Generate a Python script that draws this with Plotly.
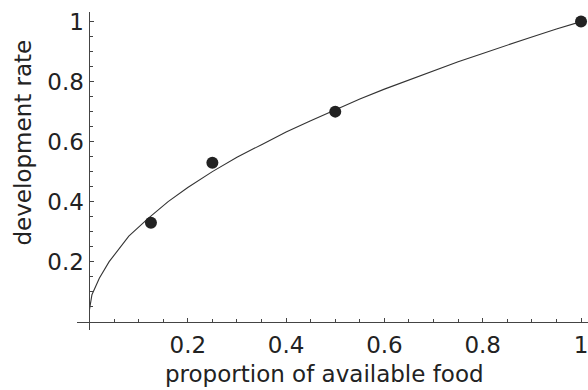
import plotly.graph_objects as go

# Measured development rate at each food level
food = [0.125, 0.25, 0.5, 1.0]
rate = [0.33, 0.53, 0.70, 1.0]

# Fitted response curve (sampled)
curve_x = [0.0, 0.005, 0.02, 0.04, 0.08, 0.12, 0.16, 0.2, 0.25, 0.3, 0.35, 0.4,
           0.45, 0.5, 0.55, 0.6, 0.65, 0.7, 0.75, 0.8, 0.85, 0.9, 0.95, 1.0]
curve_y = [0.04, 0.09, 0.145, 0.2, 0.285, 0.345, 0.40, 0.447, 0.50, 0.548, 0.59, 0.632,
           0.67, 0.707, 0.742, 0.775, 0.806, 0.837, 0.866, 0.894, 0.922, 0.949, 0.975, 1.0]

x_ticks = [0.2, 0.4, 0.6, 0.8, 1.0]
x_labels = ["0.2", "0.4", "0.6", "0.8", "1"]
y_ticks = [0.2, 0.4, 0.6, 0.8, 1.0]
y_labels = ["0.2", "0.4", "0.6", "0.8", "1"]
minor_vals = [0.05, 0.1, 0.15, 0.25, 0.3, 0.35, 0.45, 0.5, 0.55, 0.65, 0.7, 0.75,
              0.85, 0.9, 0.95]

x_range = [-0.0254, 1.0142]
y_range = [-0.0277, 1.032]

ink = "#222222"
axis_col = "#444444"
font = dict(family="DejaVu Sans", size=23, color=ink)

fig = go.Figure()
fig.add_trace(go.Scatter(x=curve_x, y=curve_y, mode="lines",
                         line=dict(color="#333333", width=1.1), hoverinfo="skip"))
fig.add_trace(go.Scatter(x=food, y=rate, mode="markers",
                         marker=dict(color=ink, size=12), cliponaxis=False))

# axes cross at the origin
x_pos = (0 - y_range[0]) / (y_range[1] - y_range[0])
y_pos = (0 - x_range[0]) / (x_range[1] - x_range[0])

fig.update_layout(
    width=588, height=390,
    margin=dict(l=77, r=0, t=12, b=60),
    paper_bgcolor="white", plot_bgcolor="white",
    showlegend=False,
    font=font,
    xaxis=dict(range=x_range, anchor="free", position=x_pos,
               showgrid=False, zeroline=False,
               showline=True, linecolor=axis_col, linewidth=1,
               tickmode="array", tickvals=x_ticks, ticktext=x_labels,
               ticks="inside", ticklen=4, tickcolor=axis_col, tickwidth=1,
               ticklabelstandoff=3, ticklabeloverflow="allow", tickfont=font,
               minor=dict(tickmode="array", tickvals=minor_vals, ticks="inside",
                          ticklen=2.5, tickcolor=axis_col, tickwidth=1)),
    yaxis=dict(range=y_range, anchor="free", position=y_pos,
               showgrid=False, zeroline=False,
               showline=True, linecolor=axis_col, linewidth=1,
               tickmode="array", tickvals=y_ticks, ticktext=y_labels,
               ticks="inside", ticklen=4, tickcolor=axis_col, tickwidth=1,
               ticklabelstandoff=1, ticklabeloverflow="allow", tickfont=font,
               minor=dict(tickmode="array", tickvals=minor_vals, ticks="inside",
                          ticklen=2.5, tickcolor=axis_col, tickwidth=1)),
    annotations=[
        dict(text="proportion of available food", xref="paper", yref="paper",
             x=(324.5 - 77) / 511, y=(390 - 374 - 60) / 318,
             xanchor="center", yanchor="middle", showarrow=False, font=font),
        dict(text="development rate", xref="paper", yref="paper",
             x=(22 - 77) / 511, y=(330 - 142.5) / 318, textangle=-90,
             xanchor="center", yanchor="middle", showarrow=False, font=font),
    ],
)

fig.write_html("out.html")
